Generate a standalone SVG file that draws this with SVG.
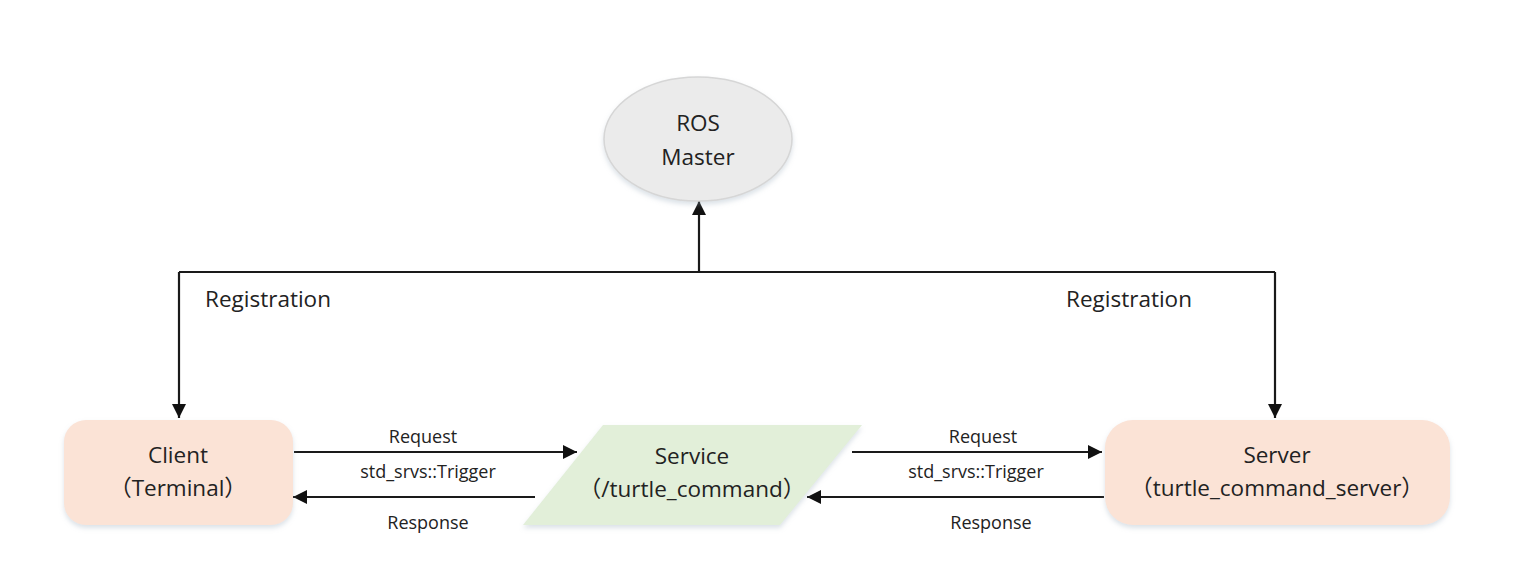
<svg xmlns="http://www.w3.org/2000/svg" width="1514" height="569" viewBox="0 0 1514 569">
<style>
.t{font-family:"Open Sans","Liberation Sans","Noto Sans CJK SC",sans-serif;fill:#222;text-anchor:middle}
.n{font-size:22.5px}
.r{font-size:22.5px}
.s{font-size:18px}
.c{stroke:#1a1a1a;stroke-width:2.2;fill:none}
</style>
<defs>
<marker id="ah" markerWidth="14" markerHeight="14" viewBox="0 0 14 14" refX="14" refY="7" orient="auto" markerUnits="userSpaceOnUse">
<path d="M0,0 L14,7 L0,14 Z" fill="#111"/>
</marker>
<filter id="sh" x="-10%" y="-10%" width="120%" height="130%">
<feDropShadow dx="0" dy="3" stdDeviation="2.5" flood-color="#9ab" flood-opacity="0.35"/>
</filter>
</defs>
<rect width="1514" height="569" fill="#fff"/>
<g id="connectors">
<path class="c" d="M179,272 H1275"/>
<path class="c" d="M699,272 V201" marker-end="url(#ah)"/>
<path class="c" d="M179,272 V418" marker-end="url(#ah)"/>
<path class="c" d="M1275,272 V418" marker-end="url(#ah)"/>
<path class="c" d="M294,452 H577" marker-end="url(#ah)"/>
<path class="c" d="M535,497 H293" marker-end="url(#ah)"/>
<path class="c" d="M852,452 H1102" marker-end="url(#ah)"/>
<path class="c" d="M1104,497 H807" marker-end="url(#ah)"/>
<text class="t r" x="268" y="307">Registration</text>
<text class="t r" x="1129" y="307">Registration</text>
<text class="t s" x="423" y="443">Request</text>
<text class="t s" x="428" y="478">std_srvs::Trigger</text>
<text class="t s" x="428" y="529">Response</text>
<text class="t s" x="983" y="443">Request</text>
<text class="t s" x="976" y="478">std_srvs::Trigger</text>
<text class="t s" x="991" y="529">Response</text>
</g>
<g id="ros-master">
<ellipse cx="698" cy="139" rx="94" ry="62" fill="#ebebeb" stroke="#d6d6d6" stroke-width="1.5" filter="url(#sh)"/>
<text class="t n" x="698" y="131">ROS</text>
<text class="t n" x="698" y="165">Master</text>
</g>
<g id="client">
<rect x="64" y="420" width="229" height="105" rx="22" fill="#fbe3d6" filter="url(#sh)"/>
<text class="t n" x="178" y="463">Client</text>
<text class="t n" x="178" y="496">（Terminal）</text>
</g>
<g id="service">
<polygon points="603,425 862,425 780,525 523,525" fill="#e2efd9" filter="url(#sh)"/>
<text class="t n" x="692" y="464">Service</text>
<text class="t n" x="692" y="497">（/turtle_command）</text>
</g>
<g id="server">
<rect x="1105" y="420" width="345" height="105" rx="28" fill="#fbe3d6" filter="url(#sh)"/>
<text class="t n" x="1277" y="463">Server</text>
<text class="t n" x="1277" y="496">（turtle_command_server）</text>
</g>
</svg>
